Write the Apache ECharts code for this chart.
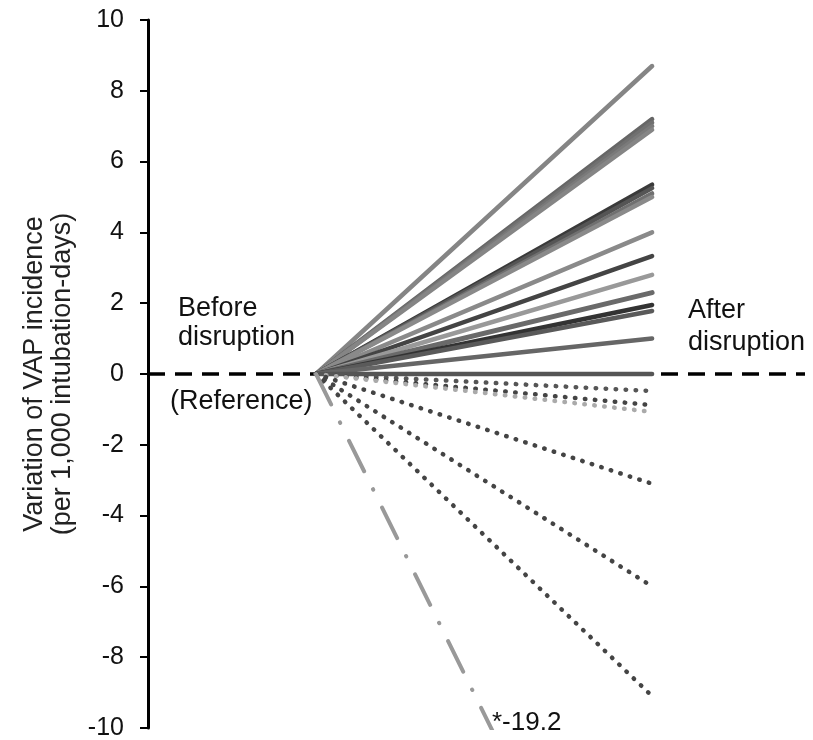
<!DOCTYPE html>
<html>
<head>
<meta charset="utf-8">
<script src="https://cdn.jsdelivr.net/npm/echarts@6/dist/echarts.min.js"></script>
<style>
  html, body { margin: 0; padding: 0; background: #fff; }
  #main { width: 813px; height: 740px; }
</style>
</head>
<body>
<div id="main"></div>
<script>
// x positions of the two periods
var periods = [0, 1]            // before disruption (reference), after disruption
var yTicks = [-10, 10, 2]       // min, max, interval

// variation after disruption, one per unit
var solidAfter = [8.7, 7.2, 7.1, 7.0, 6.9, 5.35, 5.25, 5.1, 5.0, 4.0, 3.33, 2.8, 2.3, 1.95, 1.78, 1.0, 0]
var dottedAfter = [-0.48, -0.88, -1.07, -3.1, -6.0, -9.1]
var outlierAfter = -19.2

var solidColors = ['#858585', '#666', '#707070', '#7a7a7a', '#858585', '#3a3a3a', '#555', '#707070', '#8a8a8a',
    '#8a8a8a', '#444', '#999', '#6a6a6a', '#333', '#5a5a5a', '#666', '#555']
var dottedColors = ['#555', '#444', '#aaa', '#444', '#444', '#444']

var series = []
solidAfter.forEach(function (v, i) {
    series.push({
        type: 'line',
        data: [[periods[0], 0], [periods[1], v]],
        symbol: 'none',
        silent: true,
        lineStyle: { color: solidColors[i], width: i === 12 ? 5 : 4.5, cap: 'round' },
    })
})
dottedAfter.forEach(function (v, i) {
    series.push({
        type: 'line',
        data: [[periods[0], 0], [periods[1], v]],
        symbol: 'none',
        silent: true,
        lineStyle: { color: dottedColors[i], width: 4.5, type: [0.5, 9.5], cap: 'round' },
    })
})
series.push({
    type: 'line',
    data: [[periods[0], 0], [periods[1], outlierAfter]],
    symbol: 'none',
    silent: true,
    lineStyle: { color: '#999', width: 4, type: [34, 20, 0.5, 20], cap: 'round' },
})
// reference line at zero
series.push({
    type: 'line',
    data: [[-0.5, 0], [1.455, 0]],
    symbol: 'none',
    silent: true,
    z: 1,
    lineStyle: { color: '#000', width: 3.5, type: [17, 10] },
})

var font = 'Liberation Sans, Arial, sans-serif'
var myChart = echarts.init(document.getElementById('main'))
myChart.setOption({
    animation: false,
    grid: { left: 148, right: 8, top: 20, bottom: 12, containLabel: false, outerBoundsMode: 'none' },
    xAxis: {
        type: 'value',
        min: -0.5,
        max: 1.455,
        show: false,
    },
    yAxis: {
        type: 'value',
        min: yTicks[0],
        max: yTicks[1],
        interval: yTicks[2],
        name: 'Variation of VAP incidence\n(per 1,000 intubation-days)',
        nameLocation: 'middle',
        nameGap: 64,
        nameTextStyle: { fontFamily: font, fontSize: 27, color: '#222', lineHeight: 28 },
        axisLine: { show: true, onZero: false, lineStyle: { color: '#000', width: 3 } },
        axisTick: { show: true, inside: false, length: 8, lineStyle: { color: '#000', width: 2 } },
        axisLabel: { fontFamily: font, fontSize: 25, color: '#111', margin: 24 },
        splitLine: { show: false },
    },
    graphic: [
        { type: 'text', left: 178, top: 294, style: { text: 'Before\ndisruption', font: '27px ' + font, fill: '#111', lineHeight: 29 } },
        { type: 'text', left: 170, top: 387, style: { text: '(Reference)', font: '27px ' + font, fill: '#111', lineHeight: 30 } },
        { type: 'text', left: 688, top: 295, style: { text: 'After\ndisruption', font: '27px ' + font, fill: '#111', lineHeight: 32 } },
        { type: 'text', left: 492, top: 708, style: { text: '*-19.2', font: '26px ' + font, fill: '#111', lineHeight: 30 } },
    ],
    series: series,
})
</script>
</body>
</html>
